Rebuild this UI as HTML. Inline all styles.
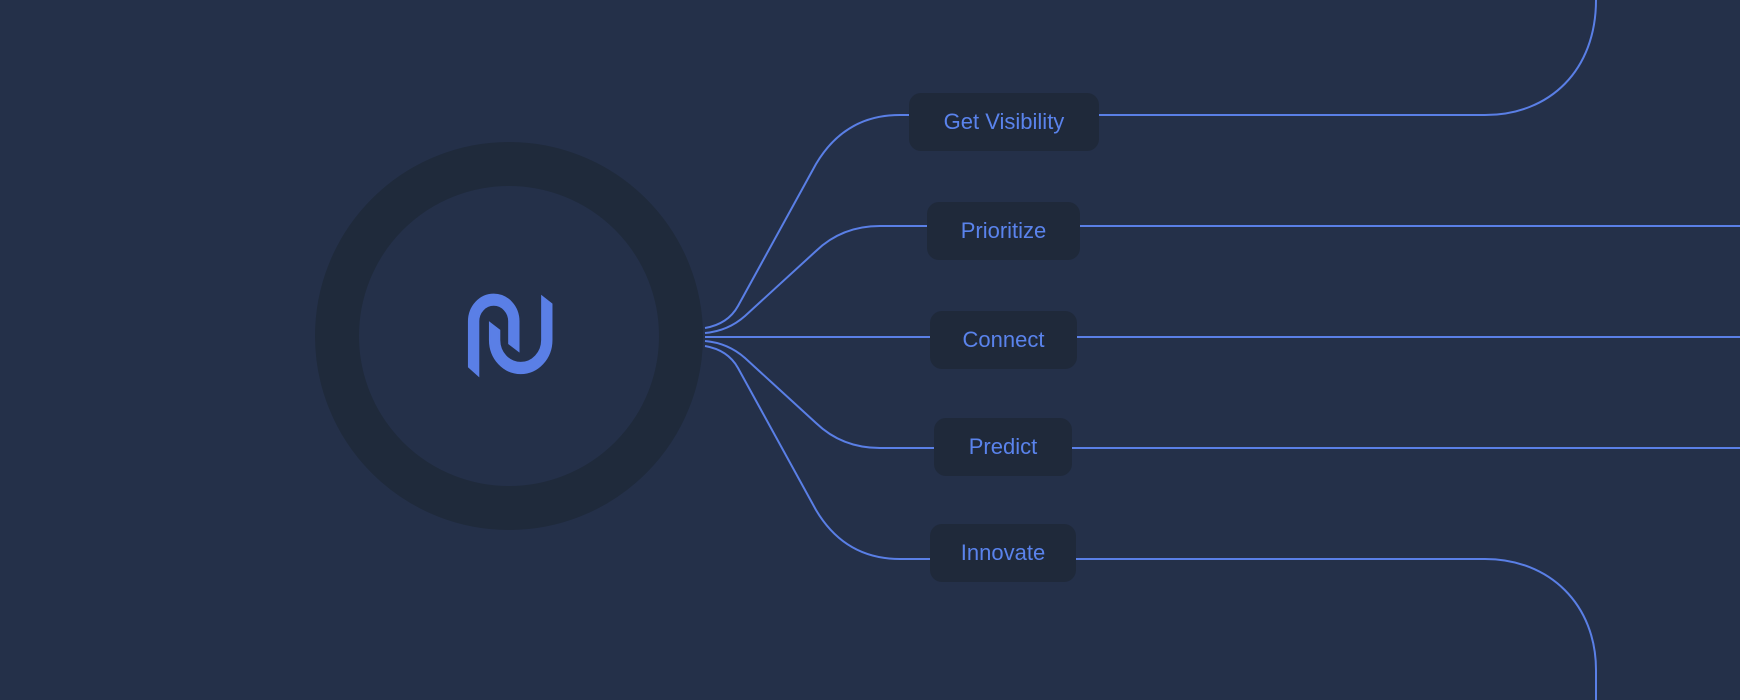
<!DOCTYPE html>
<html><head><meta charset="utf-8"><style>
html,body{margin:0;padding:0;background:#243049;}
body{width:1740px;height:700px;overflow:hidden;position:relative;font-family:"Liberation Sans",sans-serif;}
.n{position:absolute;background:#1f293a;border-radius:12px;color:#5a83ec;font-size:22px;display:flex;align-items:center;justify-content:center;}
</style></head><body>
<svg width="1740" height="700" style="position:absolute;left:0;top:0">
<circle cx="509" cy="336" r="172" fill="none" stroke="#1f2a3b" stroke-width="44"/>
<g fill="none" stroke="#5a7fe6" stroke-width="2">
<path d="M705 328 Q728 324 738 306 L816 164 Q845 115 900 115 L909 115"/>
<path d="M705 333 Q728 331 745 316 L816 251 Q842 226 880 226 L927 226"/>
<path d="M705 337 L930 337"/>
<path d="M705 341 Q728 343 745 358 L816 423 Q842 448 880 448 L934 448"/>
<path d="M705 346 Q728 350 738 368 L816 510 Q845 559 900 559 L930 559"/>
<path d="M1099 115 L1485 115 C1550 115 1596 70 1596 0"/>
<path d="M1080 226 L1740 226"/>
<path d="M1077 337 L1740 337"/>
<path d="M1072 448 L1740 448"/>
<path d="M1076 559 L1485 559 C1550 559 1596 605 1596 670 L1596 700"/>
</g>
<g fill="#5a7fe6" stroke="#5a7fe6" stroke-width="1.5" stroke-linejoin="miter" transform="translate(510 336) scale(1.05 1.13) translate(-511 -335)">
<path d="M471.7 362.3 L471.7 322 A23.8 23.8 0 0 1 519.3 322 L519.3 348.3 L510 341.7 L510 322 A14.5 14.5 0 0 0 481 322 L481 370 Z"/>
<path d="M491.7 323.3 L501 330 L501 338.5 A20.2 20.2 0 0 0 541.4 338.5 L541.4 300 L550.7 306.7 L550.7 338.5 A29.5 29.5 0 0 1 491.7 338.5 Z"/>
</g>
</svg>
<div class="n" style="left:909px;top:93px;width:190px;height:58px">Get Visibility</div>
<div class="n" style="left:927px;top:202px;width:153px;height:58px">Prioritize</div>
<div class="n" style="left:930px;top:311px;width:147px;height:58px">Connect</div>
<div class="n" style="left:934px;top:418px;width:138px;height:58px">Predict</div>
<div class="n" style="left:930px;top:524px;width:146px;height:58px">Innovate</div>
</body></html>
